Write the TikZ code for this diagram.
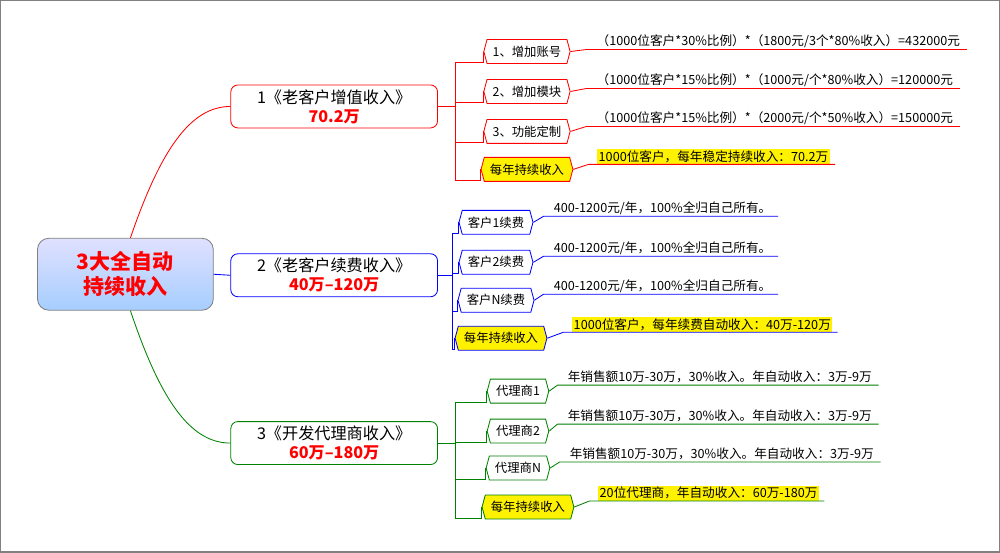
\documentclass[tikz,border=0pt]{standalone}
\usepackage{fontspec}
\setmainfont{Noto Sans CJK SC}
\usetikzlibrary{shapes.symbols}

\tikzset{
  root/.style={draw=gray, rounded corners=8pt, top color=blue!12, bottom color=cyan!45!blue!35,
    minimum width=176*0.025cm, minimum height=72*0.025cm, align=center,
    font=\fontsize{15}{18}\selectfont\bfseries, text=red},
  branch/.style={draw, fill=white, rounded corners=5pt, minimum width=207*0.025cm,
    minimum height=43*0.025cm, align=center, font=\fontsize{11.5}{13.5}\selectfont, inner sep=1pt},
  leaf/.style={draw, fill=white, signal, signal to=west and east, signal pointer angle=150,
    minimum height=24*0.025cm, inner xsep=4pt, font=\fontsize{8.8}{10}\selectfont},
  yleaf/.style={leaf, fill=yellow},
  note/.style={anchor=south west, inner sep=1pt, font=\fontsize{9}{10}\selectfont},
  ynote/.style={note, fill=yellow},
}

\begin{document}
\begin{tikzpicture}[x=0.025cm, y=-0.025cm, line width=0.6pt]
  \draw[gray, line width=0.8pt] (0,0) rectangle (1000,552);

  % root and branches
  \node[root] (root) at (125,274) {3大全自动\\持续收入};
  \node[branch, draw=red] (b1) at (334,106) {1《老客户增值收入》\\\textcolor{red}{\bfseries 70.2万}};
  \node[branch, draw=blue] (b2) at (334,275) {2《老客户续费收入》\\\textcolor{red}{\bfseries 40万--120万}};
  \node[branch, draw=green!50!black] (b3) at (334,443) {3《开发代理商收入》\\\textcolor{red}{\bfseries 60万--180万}};

  \draw[red] (root.north) ++(5,0) .. controls (160,150) and (190,106) .. (b1.west);
  \draw[blue] (root.east) -- (b2.west);
  \draw[green!50!black] (root.south) ++(5,0) .. controls (160,400) and (190,443) .. (b3.west);

  % branch 1
  \node[leaf, draw=red] (l11) at (527,51) {1、增加账号};
  \node[leaf, draw=red] (l12) at (527,91) {2、增加模块};
  \node[leaf, draw=red] (l13) at (527,131) {3、功能定制};
  \node[yleaf, draw=red] (l14) at (527,169) {每年持续收入};
  \node[note] (n11) at (595,49) {（1000位客户*30\%比例）*（1800元/3个*80\%收入）=432000元};
  \node[note] (n12) at (595,88) {（1000位客户*15\%比例）*（1000元/个*80\%收入）=120000元};
  \node[note] (n13) at (595,126) {（1000位客户*15\%比例）*（2000元/个*50\%收入）=150000元};
  \node[ynote] (n14) at (597,164) {1000位客户，每年稳定持续收入：70.2万};
  \coordinate (t1) at (455,106);
  \draw[red] (b1.east) -- (t1);
  \foreach \i in {1,...,4} {
    \draw[red] (t1) |- ([yshift=-8]l1\i.west) -- (l1\i.west);
    \draw[red] (l1\i.east) -- ([xshift=-6]n1\i.south west) -- (n1\i.south east) -- ++(5,0);
  }

  % branch 2
  \node[leaf, draw=blue] (l21) at (496,222) {客户1续费};
  \node[leaf, draw=blue] (l22) at (496,262) {客户2续费};
  \node[leaf, draw=blue] (l23) at (496,300) {客户N续费};
  \node[yleaf, draw=blue] (l24) at (501,338) {每年持续收入};
  \node[note] (n21) at (552,216) {400-1200元/年，100\%全归自己所有。};
  \node[note] (n22) at (552,256) {400-1200元/年，100\%全归自己所有。};
  \node[note] (n23) at (552,294) {400-1200元/年，100\%全归自己所有。};
  \node[ynote] (n24) at (572,332) {1000位客户，每年续费自动收入：40万-120万};
  \coordinate (t2) at (452,275);
  \draw[blue] (b2.east) -- (t2);
  \foreach \i in {1,...,4} {
    \draw[blue] (t2) |- ([yshift=-8]l2\i.west) -- (l2\i.west);
    \draw[blue] (l2\i.east) -- ([xshift=-6]n2\i.south west) -- (n2\i.south east) -- ++(5,0);
  }

  % branch 3
  \node[leaf, draw=green!50!black] (l31) at (518,391) {代理商1};
  \node[leaf, draw=green!50!black] (l32) at (518,431) {代理商2};
  \node[leaf, draw=green!50!black] (l33) at (518,468) {代理商N};
  \node[yleaf, draw=green!50!black] (l34) at (528,507) {每年持续收入};
  \node[note] (n31) at (566,385) {年销售额10万-30万，30\%收入。年自动收入：3万-9万};
  \node[note] (n32) at (566,424) {年销售额10万-30万，30\%收入。年自动收入：3万-9万};
  \node[note] (n33) at (568,462) {年销售额10万-30万，30\%收入。年自动收入：3万-9万};
  \node[ynote] (n34) at (598,501) {20位代理商，年自动收入：60万-180万};
  \coordinate (t3) at (455,443);
  \draw[green!50!black] (b3.east) -- (t3);
  \foreach \i in {1,...,4} {
    \draw[green!50!black] (t3) |- ([yshift=-8]l3\i.west) -- (l3\i.west);
    \draw[green!50!black] (l3\i.east) -- ([xshift=-6]n3\i.south west) -- (n3\i.south east) -- ++(5,0);
  }
\end{tikzpicture}
\end{document}
